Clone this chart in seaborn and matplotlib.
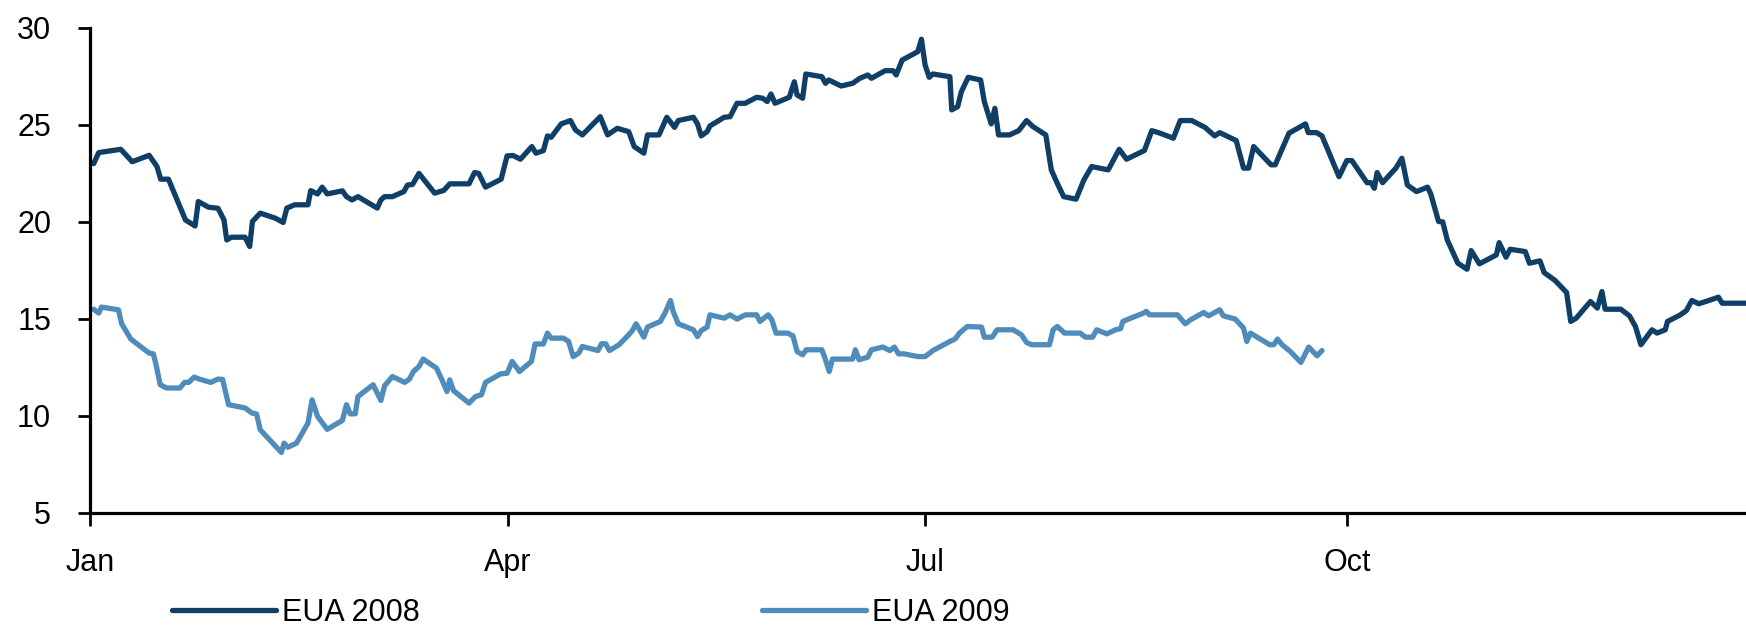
import pandas as pd
import matplotlib
matplotlib.use('Agg')
import matplotlib.pyplot as plt
import seaborn as sns

# day offsets from 1 Jan and price (EUR/t)
eua08_days = [0.8, 1.9, 6.7, 9.2, 12.9, 14.6, 15.4, 17.1, 20.8, 22.9, 23.6, 25.8, 27.9, 29.2, 29.8,
              30.8, 33.8, 34.8, 35.4, 37.1, 40.4, 42.1, 42.9, 44.6, 47.5, 48.1, 49.6, 50.6, 51.7,
              55.0, 55.9, 57.1, 58.4, 62.6, 63.4, 64.2, 65.9, 68.4, 69.2, 70.3, 71.7, 75.1, 77.1,
              78.4, 82.6, 83.8, 84.7, 86.2, 89.6, 90.9, 92.2, 93.8, 96.3, 97.2, 98.8, 99.7, 100.5,
              102.7, 104.7, 105.8, 107.3, 111.2, 112.8, 114.9, 117.4, 118.6, 120.7, 121.5, 124.0,
              125.7, 127.4, 128.2, 131.5, 132.4, 133.2, 134.5, 135.1, 138.2, 139.5, 141.0, 142.8,
              145.3, 146.6, 147.6, 148.4, 149.3, 152.4, 153.5, 154.1, 155.3, 156.0, 159.5, 160.3,
              161.0, 163.7, 166.2, 167.8, 169.5, 170.3, 173.3, 175.0, 175.7, 177.0, 180.4, 181.2,
              182.0, 182.9, 183.7, 187.4, 187.8, 189.1, 189.9, 191.4, 194.1, 194.9, 196.4, 197.2,
              198.0, 200.4, 202.4, 204.1, 205.5, 208.3, 209.5, 210.8, 212.2, 214.9, 216.6, 218.3,
              221.9, 224.3, 225.9, 229.8, 231.4, 233.2, 236.1, 237.6, 240.1, 243.0, 245.1, 246.2,
              249.8, 251.4, 252.5, 253.6, 257.4, 258.3, 261.3, 264.9, 265.5, 267.3, 268.5, 272.2,
              273.9, 275.0, 278.3, 279.2, 279.9, 280.5, 281.7, 284.6, 285.9, 287.1, 289.1, 291.5,
              292.2, 293.9, 294.8, 295.8, 298.1, 300.1, 301.0, 302.8, 306.5, 307.1, 308.6, 309.5,
              312.8, 313.7, 316.0, 316.9, 319.3, 321.8, 322.7, 323.9, 327.0, 328.5, 329.5, 330.2,
              333.6, 335.5, 336.8, 338.0, 340.4, 341.5, 343.3, 343.8, 346.6, 347.9, 349.1, 350.6,
              352.8, 354.9, 355.7, 360.9]
eua08_price = [23.0, 23.57, 23.74, 23.1, 23.43, 22.85, 22.2, 22.2, 20.1, 19.79, 21.05, 20.76, 20.7, 20.1, 19.07,
               19.21, 19.21, 18.73, 20.02, 20.45, 20.19, 19.97, 20.71, 20.88, 20.88, 21.61, 21.44, 21.79, 21.44,
               21.6, 21.3, 21.13, 21.3, 20.71, 21.13, 21.3, 21.3, 21.56, 21.9, 21.93, 22.5, 21.48, 21.62,
               21.96, 21.96, 22.54, 22.5, 21.79, 22.2, 23.4, 23.42, 23.23, 23.88, 23.54, 23.67, 24.43, 24.36,
               25.05, 25.22, 24.74, 24.48, 25.42, 24.48, 24.82, 24.65, 23.88, 23.54, 24.48, 24.48,
               25.39, 24.87, 25.22, 25.39, 25.05, 24.43, 24.65, 24.94, 25.39, 25.42, 26.11, 26.11,
               26.42, 26.37, 26.2, 26.59, 26.11, 26.42, 27.22, 26.54, 26.37, 27.62, 27.48, 27.14,
               27.31, 27.0, 27.14, 27.4, 27.57, 27.4, 27.79, 27.79, 27.57, 28.34, 28.77, 29.41,
               28.08, 27.45, 27.62, 27.48, 25.77, 25.94, 26.71, 27.45, 27.31, 26.2, 25.05, 25.85,
               24.48, 24.48, 24.7, 25.22, 24.91, 24.48, 22.68, 21.99, 21.3, 21.17, 22.16, 22.85,
               22.68, 23.74, 23.23, 23.68, 24.7, 24.57, 24.31, 25.22, 25.22, 24.87, 24.43, 24.6,
               24.19, 22.77, 22.77, 23.88, 22.94, 22.94, 24.57, 25.05, 24.6, 24.6, 24.43, 22.33,
               23.16, 23.16, 22.02, 22.02, 21.73, 22.54, 22.02, 22.77, 23.28, 21.9, 21.56, 21.79,
               21.44, 20.02, 20.0, 19.07, 17.87, 17.56, 18.52, 17.84, 18.3, 18.93, 18.18, 18.59,
               18.47, 17.87, 17.99, 17.39, 16.98, 16.36, 14.87, 15.04, 15.9, 15.56, 16.41, 15.5,
               15.5, 15.16, 14.61, 13.67, 14.44, 14.27, 14.44, 14.87, 15.21, 15.43, 15.95, 15.78,
               15.95, 16.12, 15.81, 15.81]

eua09_days = [0.8, 1.9, 2.5, 6.2, 6.9, 7.9, 8.9, 12.9, 13.8, 14.4, 15.3, 16.7, 19.6, 20.6, 21.5, 22.7,
              23.8, 26.3, 27.9, 28.9, 30.2, 33.8, 35.3, 36.3, 37.1, 38.8, 41.7, 42.3, 43.1, 45.0,
              47.5, 48.4, 49.6, 51.7, 55.0, 55.9, 56.7, 57.8, 58.4, 61.7, 63.4, 64.2, 65.9, 68.6,
              69.6, 70.5, 71.7, 72.6, 75.5, 76.7, 77.8, 78.4, 79.2, 82.6, 84.0, 85.3, 86.2, 89.5,
              90.9, 92.0, 93.6, 96.2, 97.0, 98.8, 99.7, 100.5, 103.2, 104.3, 105.3, 106.5, 107.3,
              110.7, 111.5, 112.4, 113.2, 115.3, 117.4, 118.2, 119.0, 120.7, 121.5, 124.3, 125.3,
              126.5, 127.1, 128.2, 131.5, 132.4, 133.2, 134.5, 135.1, 138.2, 139.5, 141.0, 142.8,
              145.3, 146.0, 147.8, 148.6, 149.5, 152.0, 153.2, 154.1, 155.3, 156.1, 159.5, 160.1,
              161.1, 161.8, 166.2, 166.8, 167.6, 169.5, 170.3, 172.8, 174.3, 175.3, 176.2, 177.4,
              180.4, 182.0, 183.7, 187.4, 188.5, 189.5, 191.2, 194.3, 194.9, 196.6, 197.7, 201.2,
              203.0, 204.1, 205.2, 209.1, 209.9, 210.8, 212.4, 215.8, 216.9, 218.5, 219.4, 221.6,
              223.6, 224.6, 225.1, 226.4, 229.6, 230.2, 230.9, 237.0, 238.7, 240.1, 242.7, 243.8,
              246.2, 247.0, 249.6, 251.4, 252.1, 252.9, 257.1, 258.0, 258.8, 259.8, 261.6, 263.9,
              265.6, 267.4, 268.5]
eua09_price = [15.5, 15.3, 15.61, 15.47, 14.75, 14.35, 13.96, 13.24, 13.2, 12.64, 11.61, 11.44, 11.44, 11.73, 11.73, 12.0,
               11.9, 11.73, 11.9, 11.88, 10.58, 10.41, 10.15, 10.1, 9.29, 8.86, 8.12, 8.6, 8.39, 8.6,
               9.63, 10.83, 9.97, 9.31, 9.77, 10.58, 10.11, 10.11, 11.0, 11.61, 10.8, 11.56, 12.03, 11.73,
               11.9, 12.29, 12.55, 12.93, 12.47, 11.86, 11.26, 11.86, 11.31, 10.66, 11.0, 11.09, 11.73, 12.17,
               12.2, 12.81, 12.29, 12.81, 13.71, 13.71, 14.27, 14.01, 14.01, 13.84, 13.06, 13.24, 13.58,
               13.37, 13.72, 13.72, 13.37, 13.67, 14.18, 14.4, 14.75, 14.06, 14.58, 14.87, 15.3,
               15.95, 15.38, 14.75, 14.44, 14.09, 14.4, 14.58, 15.21, 15.04, 15.21, 14.99, 15.21,
               15.21, 14.87, 15.21, 14.95, 14.27, 14.27, 14.13, 13.32, 13.15, 13.41, 13.41, 13.03,
               12.29, 12.93, 12.93, 13.41, 12.9, 13.03, 13.41, 13.55, 13.37, 13.55, 13.2, 13.2,
               13.06, 13.06, 13.37, 13.84, 13.96, 14.27, 14.61, 14.58, 14.06, 14.06, 14.44, 14.44,
               14.18, 13.79, 13.67, 13.67, 14.44, 14.61, 14.27, 14.27, 14.06, 14.06, 14.44, 14.23,
               14.45, 14.5, 14.87, 15.0, 15.3, 15.39, 15.21, 15.21, 14.75, 14.99, 15.33, 15.16,
               15.47, 15.16, 14.99, 14.53, 13.84, 14.27, 13.67, 13.67, 13.96, 13.67, 13.32, 12.76,
               13.55, 13.1, 13.37]

series_names = ['EUA 2008', 'EUA 2009']
series_colors = ['#0f3e66', '#4f8bbb']
tick_dates = ['2008-01-01', '2008-04-01', '2008-07-01', '2008-10-01']
tick_labels = ['Jan', 'Apr', 'Jul', 'Oct']
y_ticks = [5, 10, 15, 20, 25, 30]

start = pd.Timestamp('2008-01-01')
frames = []
for name, days, price in [(series_names[0], eua08_days, eua08_price),
                          (series_names[1], eua09_days, eua09_price)]:
    frames.append(pd.DataFrame({'date': start + pd.to_timedelta(days, unit='D'),
                                'price': price, 'series': name}))
df = pd.concat(frames, ignore_index=True)

sns.set_style('ticks')
plt.rcParams['font.family'] = ['Liberation Sans', 'DejaVu Sans']

fig = plt.figure(figsize=(17.46, 6.29), dpi=100)
ax = fig.add_axes([90 / 1746, 1 - 513 / 629, 1 - 90 / 1746, (513 - 27.8) / 629])

sns.lineplot(data=df, x='date', y='price', hue='series', palette=dict(zip(series_names, series_colors)),
             linewidth=3.8, ax=ax, legend=False, estimator=None, sort=False)

ax.set_xlim(start, start + pd.Timedelta(days=360.9))
ax.set_ylim(5, 30)
ax.set_yticks(y_ticks)
ax.set_xticks(pd.to_datetime(tick_dates))
ax.set_xticklabels(tick_labels)
ax.set_xlabel('')
ax.set_ylabel('')

for s in ['top', 'right']:
    ax.spines[s].set_visible(False)
for s in ['left', 'bottom']:
    ax.spines[s].set_linewidth(2.3)
    ax.spines[s].set_color('black')
ax.tick_params(axis='y', direction='out', length=9, width=2, pad=19, labelsize=22, colors='black')
ax.tick_params(axis='x', direction='out', length=9, width=2, pad=16, labelsize=22, colors='black')

handles = ax.get_lines()[:2]
fig.legend(handles, series_names, loc='center left', bbox_to_anchor=(172 / 1746, 1 - 613 / 629),
           ncol=2, frameon=False, fontsize=22, handlelength=3.4, handletextpad=0.2,
           columnspacing=11.2, borderpad=0, borderaxespad=0, labelcolor='black')

fig.savefig('out.png', dpi=100)
